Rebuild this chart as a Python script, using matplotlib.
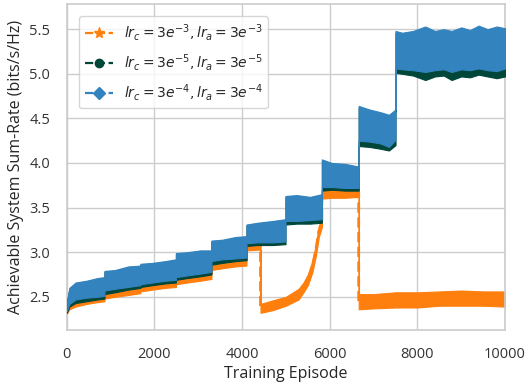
import matplotlib
matplotlib.use('Agg')
import matplotlib.pyplot as plt
from matplotlib.lines import Line2D
import seaborn as sns

# knot episodes shared by the two upper runs (repeated x = step)
ep_bg = [0, 60, 200, 450, 700, 860, 860, 1100, 1400, 1680, 1680, 1950, 2250, 2490,
         2490, 2750, 3050, 3300, 3300, 3550, 3850, 4100, 4100, 4350, 4700, 4990,
         4990, 5250, 5550, 5820, 5820, 6050, 6350, 6660, 6660, 6900, 7150, 7350, 7500,
         7500, 7650, 7900, 8180, 8400, 8600, 8780, 9000, 9200, 9395, 9600, 9810, 10000]

# lr = 3e-4 (blue) band
blue_hi = [2.44, 2.60, 2.66, 2.68, 2.71, 2.72, 2.79, 2.80, 2.84, 2.85, 2.87, 2.88, 2.90, 2.92,
           2.99, 3.00, 3.02, 3.02, 3.13, 3.14, 3.17, 3.18, 3.31, 3.33, 3.35, 3.37,
           3.63, 3.64, 3.62, 3.65, 4.04, 4.00, 3.99, 3.96, 4.64, 4.60, 4.57, 4.54, 4.60,
           5.48, 5.46, 5.48, 5.53, 5.48, 5.50, 5.48, 5.52, 5.49, 5.54, 5.50, 5.53, 5.51]
blue_lo = [2.34, 2.42, 2.47, 2.49, 2.50, 2.51, 2.57, 2.59, 2.61, 2.63, 2.64, 2.66, 2.68, 2.69,
           2.72, 2.74, 2.76, 2.78, 2.90, 2.92, 2.93, 2.94, 3.10, 3.11, 3.11, 3.12,
           3.35, 3.35, 3.36, 3.37, 3.73, 3.73, 3.72, 3.72, 4.25, 4.24, 4.22, 4.18, 4.26,
           5.06, 5.05, 5.04, 5.02, 5.04, 5.05, 5.02, 5.05, 5.04, 5.06, 5.04, 5.03, 5.06]

# lr = 3e-5 (green) band, mostly hidden behind blue
green_hi = [2.43, 2.59, 2.65, 2.67, 2.70, 2.71, 2.78, 2.79, 2.83, 2.84, 2.86, 2.87, 2.89, 2.91,
            2.98, 2.99, 3.01, 3.01, 3.12, 3.13, 3.16, 3.17, 3.30, 3.32, 3.34, 3.36,
            3.62, 3.63, 3.61, 3.64, 4.02, 3.99, 3.98, 3.95, 4.62, 4.59, 4.56, 4.53, 4.58,
            5.46, 5.44, 5.46, 5.51, 5.46, 5.48, 5.46, 5.50, 5.47, 5.52, 5.48, 5.51, 5.49]
green_lo = [2.32, 2.39, 2.43, 2.45, 2.47, 2.48, 2.53, 2.55, 2.58, 2.60, 2.61, 2.63, 2.65, 2.66,
            2.69, 2.71, 2.73, 2.75, 2.86, 2.88, 2.90, 2.91, 3.07, 3.08, 3.08, 3.09,
            3.31, 3.32, 3.32, 3.33, 3.69, 3.70, 3.69, 3.69, 4.19, 4.18, 4.16, 4.14, 4.20,
            5.01, 5.00, 4.98, 4.93, 4.97, 4.98, 4.93, 4.97, 4.96, 4.99, 4.97, 4.95, 4.97]

# lr = 3e-3 (orange) band
ep_o = [0, 60, 200, 450, 700, 860, 860, 1100, 1400, 1680, 1680, 1950, 2250, 2490,
        2490, 2750, 3050, 3300, 3300, 3550, 3850, 4100, 4100, 4420, 4420, 4700, 5000,
        5290, 5400, 5500, 5600, 5680, 5750, 5820, 5820, 6050, 6350, 6660, 6660, 7000,
        7500, 8000, 8500, 9000, 9500, 10000]
orange_hi = [2.36, 2.43, 2.46, 2.48, 2.50, 2.51, 2.55, 2.57, 2.59, 2.60, 2.62, 2.64, 2.66, 2.67,
             2.70, 2.72, 2.74, 2.76, 2.86, 2.88, 2.90, 2.91, 3.07, 3.09, 2.42, 2.46, 2.50,
             2.59, 2.66, 2.75, 2.90, 3.08, 3.30, 3.36, 3.70, 3.72, 3.72, 3.74, 2.53, 2.53,
             2.55, 2.55, 2.56, 2.57, 2.56, 2.56]
orange_lo = [2.31, 2.36, 2.39, 2.42, 2.44, 2.45, 2.48, 2.50, 2.52, 2.54, 2.56, 2.58, 2.60, 2.61,
             2.64, 2.66, 2.68, 2.70, 2.80, 2.82, 2.84, 2.85, 3.02, 3.03, 2.32, 2.35, 2.40,
             2.47, 2.55, 2.63, 2.77, 2.95, 3.17, 3.28, 3.60, 3.61, 3.61, 3.62, 2.36, 2.37,
             2.38, 2.38, 2.40, 2.40, 2.40, 2.39]

labels = [r'$lr_c = 3e^{-3}, lr_a = 3e^{-3}$',
          r'$lr_c = 3e^{-5}, lr_a = 3e^{-5}$',
          r'$lr_c = 3e^{-4}, lr_a = 3e^{-4}$']
colors = ['#ff7f0e', '#00473a', '#3283be']
markers = ['*', 'o', 'D']

sns.set_theme(style='whitegrid')
plt.rcParams['font.family'] = ['Open Sans', 'DejaVu Sans']

fig = plt.figure(figsize=(5.3, 3.83), dpi=100)
ax = fig.add_axes([0.126, 0.138, 0.827, 0.852])

# orange run with its dashed trace (visible at the two drops)
ax.fill_between(ep_o, orange_lo, orange_hi, color=colors[0], lw=0.8, zorder=2)
orange_mid = [(a + b) / 2 for a, b in zip(orange_lo, orange_hi)]
ax.plot(ep_o, orange_mid, color=colors[0], ls='--', lw=2, zorder=2)

ax.fill_between(ep_bg, green_lo, green_hi, color=colors[1], lw=0.8, zorder=3)
ax.fill_between(ep_bg, blue_lo, blue_hi, color=colors[2], lw=0.8, zorder=4)

ax.set_xlim(0, 10000)
ax.set_ylim(2.126, 5.784)
ax.set_yticks([2.5, 3.0, 3.5, 4.0, 4.5, 5.0, 5.5])
ax.set_xlabel('Training Episode', fontsize=11.5, labelpad=3)
ax.set_ylabel('Achievable System Sum-Rate (bits/s/Hz)', fontsize=11.5, labelpad=4)
ax.tick_params(labelsize=10.5, colors='#333333', pad=6)
for s in ax.spines.values():
    s.set_color('#cccccc')
    s.set_linewidth(1.2)

handles = [Line2D([], [], color=c, ls='--', lw=1.6, marker=m,
                  markersize=8 if m == '*' else 6) for c, m in zip(colors, markers)]
ax.legend(handles, labels, loc='upper left', fontsize=10, labelspacing=0.65,
          borderaxespad=0.9, frameon=True)

fig.savefig('out.png', dpi=100)
